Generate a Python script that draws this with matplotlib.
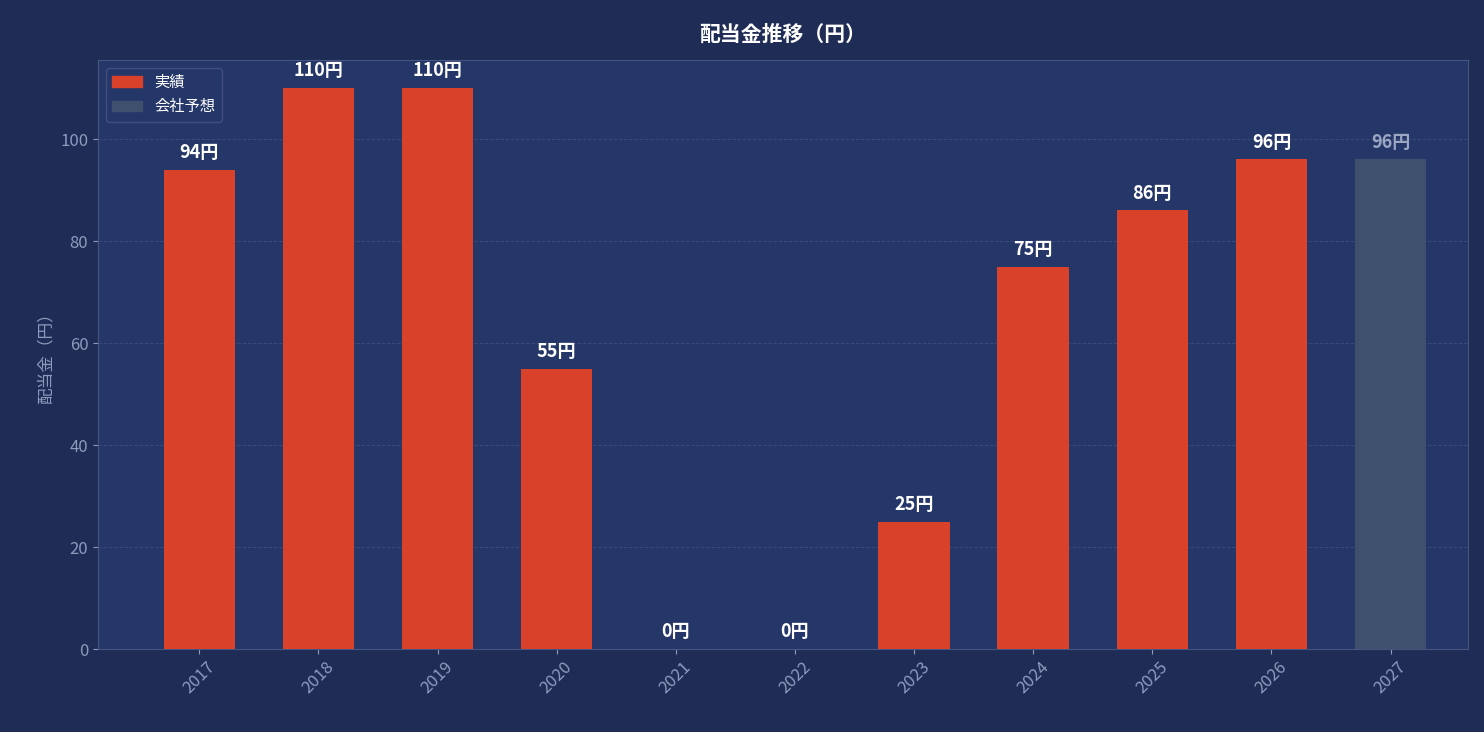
import matplotlib.pyplot as plt
from matplotlib.patches import Patch

plt.rcParams['font.family'] = ['Noto Sans CJK JP', 'DejaVu Sans']

years = ['2017', '2018', '2019', '2020', '2021', '2022', '2023', '2024', '2025', '2026', '2027']
dividends = [94, 110, 110, 55, 0, 0, 25, 75, 86, 96, 96]
is_forecast = [False] * 10 + [True]

fig_bg = '#1f2c55'
ax_bg = '#253668'
red = '#d9412b'
gray = '#3e506e'
tick_c = '#8e9bbd'

fig = plt.figure(figsize=(14.84, 7.32), dpi=100, facecolor=fig_bg)
ax = fig.add_axes([98 / 1484, 1 - 649 / 732, 1370 / 1484, 589 / 732], facecolor=ax_bg)

x = range(len(years))
colors = [gray if f else red for f in is_forecast]
bars = ax.bar(x, dividends, width=0.6, color=colors, zorder=3)

for i, (b, v) in enumerate(zip(bars, dividends)):
    c = '#9aa6c2' if is_forecast[i] else 'white'
    ax.text(b.get_x() + b.get_width() / 2, v + 1.5, f'{v}円', ha='center', va='bottom',
            color=c, fontsize=13, fontweight='bold')

ax.set_xticks(list(x))
ax.set_xticklabels(years, rotation=45, color=tick_c, fontsize=12)
ax.tick_params(axis='y', colors=tick_c, labelsize=12)
ax.tick_params(axis='x', colors=tick_c)
ax.set_ylim(0, 115.5)
ax.set_xlim(-0.85, 10.65)
ax.set_yticks([0, 20, 40, 60, 80, 100])
ax.grid(axis='y', color='#3a4a7a', linestyle='--', linewidth=0.7, zorder=0)
for s in ax.spines.values():
    s.set_color('#46557f')
ax.set_ylabel('配当金（円）', color=tick_c, fontsize=12)
ax.set_title('配当金推移（円）', color='white', fontsize=15, fontweight='bold', pad=14)

handles = [Patch(color=red, label='実績'), Patch(color=gray, label='会社予想')]
leg = ax.legend(handles=handles, loc='upper left', facecolor=ax_bg, edgecolor='#46557f',
                labelcolor='white', fontsize=11)

fig.savefig('out.png', dpi=100, facecolor=fig_bg)
